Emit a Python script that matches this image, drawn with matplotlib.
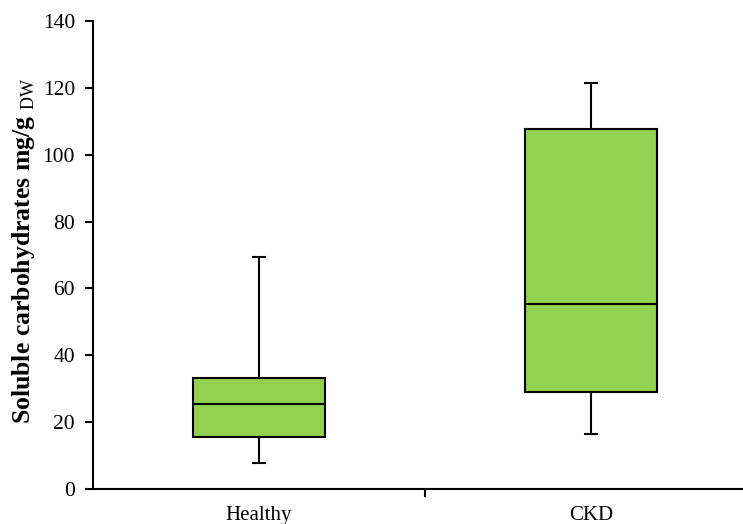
import matplotlib
matplotlib.use("Agg")
import matplotlib.pyplot as plt

plt.rcParams['font.family'] = ['Liberation Serif', 'DejaVu Serif']
plt.rcParams['mathtext.fontset'] = 'custom'
plt.rcParams['mathtext.rm'] = 'Liberation Serif'

# values
groups = ["Healthy", "CKD"]
whisker_low = [7.8, 16.5]
q1 = [15.6, 29.0]
median = [25.4, 55.3]
q3 = [33.2, 107.7]
whisker_high = [69.4, 121.4]

stats = []
for i, name in enumerate(groups):
    stats.append({
        "label": name,
        "whislo": whisker_low[i],
        "q1": q1[i],
        "med": median[i],
        "q3": q3[i],
        "whishi": whisker_high[i],
        "fliers": [],
    })

fig = plt.figure(figsize=(7.43, 5.24), dpi=100)
ax = fig.add_axes([93 / 743, 1 - 489 / 524, 1 - 93 / 743, (489 - 21) / 524])

line = dict(color="black", linewidth=1.5)
ax.bxp(stats, positions=[0, 1], widths=0.40, patch_artist=True,
       boxprops=dict(facecolor="#92D050", edgecolor="black", linewidth=1.5),
       medianprops=line, whiskerprops=line,
       capprops=line, capwidths=0.035, showfliers=False)

ax.set_xlim(-0.5, 1.458)
ax.set_ylim(0, 140)
ax.set_yticks(range(0, 141, 20))
ax.set_xticks([0, 1])
ax.set_xticklabels(groups)
ax.set_xticks([0.5], minor=True)

ax.spines["top"].set_visible(False)
ax.spines["right"].set_visible(False)
ax.spines["left"].set_linewidth(1.5)
ax.spines["bottom"].set_linewidth(1.5)

ax.tick_params(axis="y", direction="out", length=6, width=1.5, pad=7, labelsize=15.5)
ax.tick_params(axis="x", which="major", length=0, pad=12, labelsize=15)
ax.tick_params(axis="x", which="minor", direction="out", length=6, width=1.5)

# y label placed by hand so it sits where the reference has it
fig.text(24 / 743, 1 - 251 / 524, r"Soluble carbohydrates mg/g $_{\mathrm{DW}}$",
         fontsize=18.5, fontweight="bold", rotation=90, ha="center", va="center")

fig.savefig("out.png", dpi=100)
